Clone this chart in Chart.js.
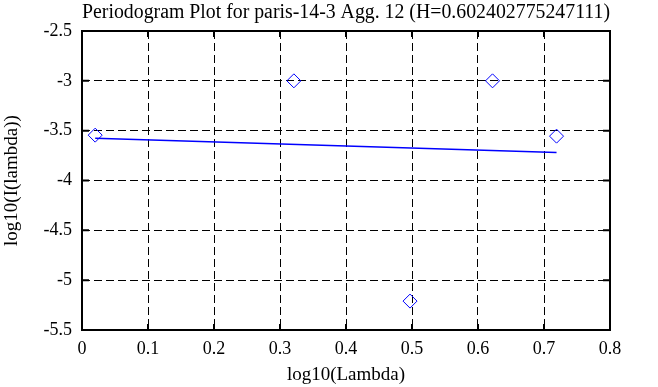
<!DOCTYPE html>
<html>
<head>
<meta charset="utf-8">
<script src="https://cdn.jsdelivr.net/npm/chart.js@4"></script>
<style>
  html, body { margin: 0; padding: 0; background: #fff; }
  #wrap { width: 658px; height: 387px; }
</style>
</head>
<body>
<div id="wrap"><canvas id="periodogram"></canvas></div>
<script>
// data
const pointX = [0.020, 0.321, 0.497, 0.622, 0.719];
const pointY = [-3.545, -3.0, -5.21, -3.0, -3.555];
const fitX = [0.020, 0.719];
const fitY = [-3.576, -3.719];
const xTicks = [0, 0.1, 0.2, 0.3, 0.4, 0.5, 0.6, 0.7, 0.8];
const xTickLabels = ['0', '0.1', '0.2', '0.3', '0.4', '0.5', '0.6', '0.7', '0.8'];
const yTicks = [-5.5, -5, -4.5, -4, -3.5, -3, -2.5];
const yTickLabels = ['-5.5', '-5', '-4.5', '-4', '-3.5', '-3', '-2.5'];

const serif = 'Liberation Serif';

// box round the plot area plus little inward tick marks
const frame = {
  id: 'frame',
  afterDatasetsDraw(chart) {
    const ctx = chart.ctx;
    const a = chart.chartArea;
    const xs = chart.scales.x, ys = chart.scales.y;
    ctx.save();
    ctx.strokeStyle = '#000';
    ctx.lineWidth = 2;
    ctx.setLineDash([]);
    ctx.beginPath();
    xTicks.forEach(v => {
      const px = xs.getPixelForValue(v);
      ctx.moveTo(px, a.bottom); ctx.lineTo(px, a.bottom - 6);
      ctx.moveTo(px, a.top); ctx.lineTo(px, a.top + 6);
    });
    yTicks.forEach(v => {
      const py = ys.getPixelForValue(v);
      ctx.moveTo(a.left, py); ctx.lineTo(a.left + 7, py);
      ctx.moveTo(a.right, py); ctx.lineTo(a.right - 7, py);
    });
    ctx.stroke();
    ctx.strokeRect(a.left, a.top, a.right - a.left, a.bottom - a.top);
    ctx.restore();
  }
};

const ctx = document.getElementById('periodogram').getContext('2d');
new Chart(ctx, {
  type: 'scatter',
  data: {
    datasets: [
      {
        data: pointX.map((x, i) => ({ x: x, y: pointY[i] })),
        pointStyle: 'rectRot',
        pointRadius: 7,
        pointBorderColor: '#0000ff',
        pointBackgroundColor: 'rgba(0,0,0,0)',
        pointBorderWidth: 1,
        showLine: false
      },
      {
        data: fitX.map((x, i) => ({ x: x, y: fitY[i] })),
        showLine: true,
        borderColor: '#0000ff',
        borderWidth: 1.5,
        pointRadius: 0
      }
    ]
  },
  options: {
    responsive: true,
    maintainAspectRatio: false,
    animation: false,
    layout: { padding: { top: 0, right: 48, bottom: 0, left: 0 } },
    plugins: {
      legend: { display: false },
      tooltip: { enabled: false },
      title: {
        display: true,
        fullSize: false,
        text: 'Periodogram Plot for paris-14-3 Agg. 12 (H=0.602402775247111)',
        color: '#000',
        font: { family: serif, size: 20, weight: 'normal', lineHeight: 1.2 },
        padding: { top: 1, bottom: 6 }
      }
    },
    scales: {
      x: {
        type: 'linear',
        min: 0,
        max: 0.8,
        afterBuildTicks: s => { s.ticks = xTicks.map(v => ({ value: v })); },
        afterFit: s => { s.height = 57; },
        ticks: {
          color: '#000',
          font: { family: serif, size: 18 },
          padding: 8,
          maxRotation: 0,
          callback: (v, i) => xTickLabels[i]
        },
        grid: { color: '#000', lineWidth: 1, drawTicks: false },
        border: { display: false, dash: [8, 4] },
        title: {
          display: true,
          text: 'log10(Lambda)',
          color: '#000',
          font: { family: serif, size: 19 },
          padding: { top: 0, bottom: 1 }
        }
      },
      y: {
        type: 'linear',
        min: -5.5,
        max: -2.5,
        afterBuildTicks: s => { s.ticks = yTicks.map(v => ({ value: v })); },
        afterFit: s => { s.width = 82; },
        ticks: {
          color: '#000',
          font: { family: serif, size: 18 },
          padding: 10,
          callback: (v, i) => yTickLabels[i]
        },
        grid: { color: '#000', lineWidth: 1, drawTicks: false },
        border: { display: false, dash: [8, 4] },
        title: {
          display: true,
          text: 'log10(I(lambda))',
          color: '#000',
          font: { family: serif, size: 19 },
          padding: { top: 1, bottom: 0 }
        }
      }
    }
  },
  plugins: [frame]
});
</script>
</body>
</html>
